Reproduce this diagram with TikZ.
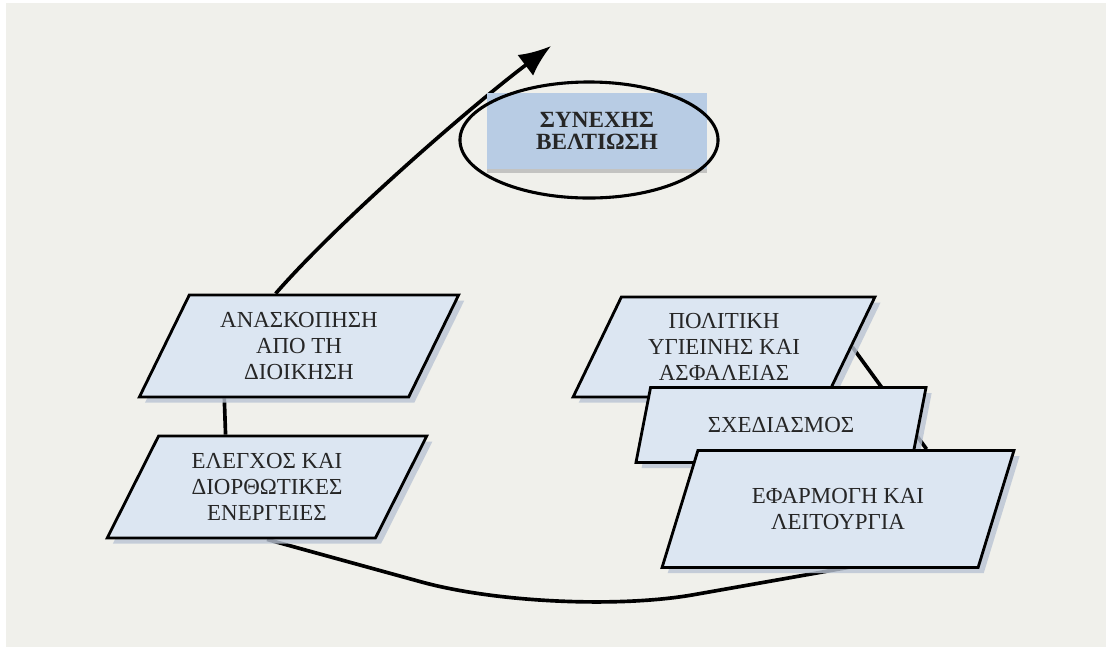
\documentclass[tikz,border=0pt]{standalone}
\usepackage{fontspec}
\setmainfont{Liberation Serif}
\usepackage{tikz}
\usetikzlibrary{shapes.geometric,shadows,arrows.meta,calc}
\pgfdeclarelayer{bg}
\pgfsetlayers{bg,main}
\definecolor{boxfill}{RGB}{220,230,242}
\definecolor{goalfill}{RGB}{184,204,228}
\definecolor{paper}{RGB}{240,240,235}
\definecolor{shade}{RGB}{185,196,212}
\tikzset{
    every node/.style={inner sep=0mm, align=center, text=black!85, font=\fontsize{16.3}{18.5}\selectfont}
}
\tikzset{
    box/.style={trapezium, trapezium stretches=true, trapezium left angle=62, trapezium right angle=118,
        draw, line width=2pt, fill=boxfill, drop shadow={shadow xshift=4pt, shadow yshift=-4pt, fill=shade, opacity=.8}},
    goal/.style={rectangle, fill=goalfill, minimum width=5.5cm, minimum height=1.875cm,
        font=\bfseries\fontsize{16.5}{16}\selectfont, drop shadow={shadow xshift=0pt, shadow yshift=-3pt, fill=black!35, opacity=.6}},
    ring/.style={ellipse, draw, line width=2.2pt, minimum width=6.45cm, minimum height=2.9cm},
    link/.style={line width=2.6pt}
}

\begin{document}
\begin{tikzpicture}[x=0.025cm, y=-0.025cm]
    \useasboundingbox (0, 0) rectangle (1106, 647);

    \node (b1) [box, minimum width=8cm, minimum height=2.55cm] at (299, 346) {ΑΝΑΣΚΟΠΗΣΗ\\ΑΠΟ ΤΗ\\ΔΙΟΙΚΗΣΗ};
    \node (b2) [box, minimum width=8cm, minimum height=2.55cm] at (267, 487) {ΕΛΕΓΧΟΣ ΚΑΙ\\ΔΙΟΡΘΩΤΙΚΕΣ\\ΕΝΕΡΓΕΙΕΣ};
    \node (b3) [box, minimum width=7.55cm, minimum height=2.5cm] at (724, 347) {ΠΟΛΙΤΙΚΗ\\ΥΓΙΕΙΝΗΣ ΚΑΙ\\ΑΣΦΑΛΕΙΑΣ};
    \node (b4) [box, minimum width=7.25cm, minimum height=1.875cm] at (781, 425) {ΣΧΕΔΙΑΣΜΟΣ};
    \node (b5) [box, minimum width=8.8cm, minimum height=2.925cm] at (838, 509) {ΕΦΑΡΜΟΓΗ ΚΑΙ\\ΛΕΙΤΟΥΡΓΙΑ};

    \node (g1) [goal] at (597, 131) {ΣΥΝΕΧΗΣ\\ΒΕΛΤΙΩΣΗ};
    \node (r1) [ring] at (589, 140) {};
    \coordinate (t1) at (551, 46);

    \begin{pgfonlayer}{bg}
        \fill [paper] (6, 3) rectangle (1106, 647);
        \draw [link] ($(b1.bottom left corner)!.32!(b1.bottom right corner)$) -- ($(b2.top left corner)!.25!(b2.top right corner)$);
        \draw [link] (b3.east) -- ($(b5.top left corner)!.72!(b5.top right corner)$);
        \draw [link, rounded corners=3.5cm] (b2.south) -- (556, 619) -- ($(b5.south)+(30, -5)$);
        \draw [link, -{Latex[length=8mm, width=6.5mm]}] ($(b1.top left corner)!.32!(b1.top right corner)$) .. controls (338, 222) and (470, 107) .. (t1);
    \end{pgfonlayer}
\end{tikzpicture}
\end{document}
